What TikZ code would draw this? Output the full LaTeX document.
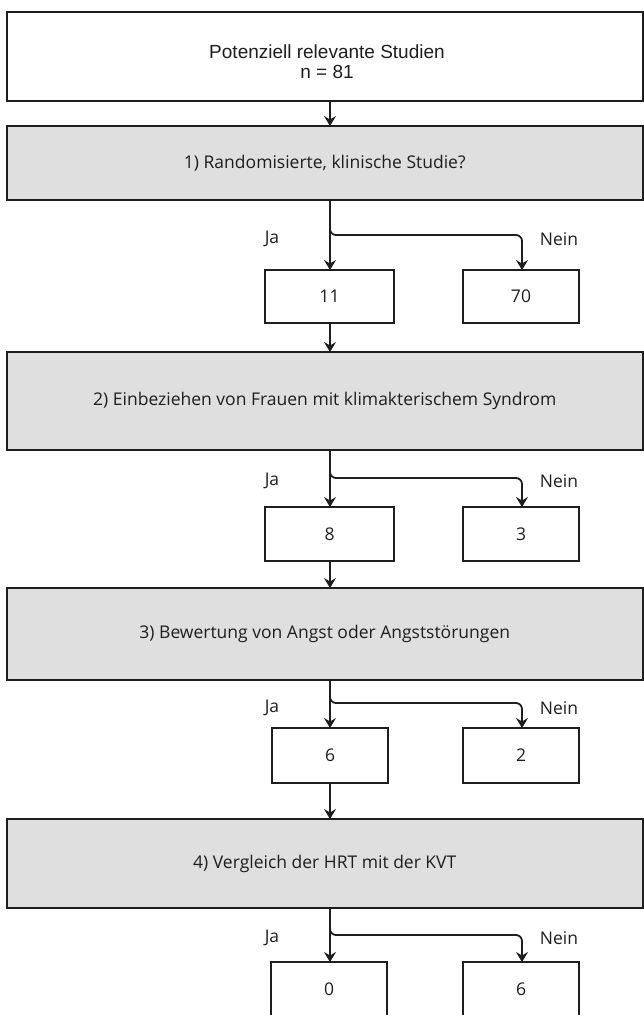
\documentclass[tikz,border=0pt]{standalone}
\usepackage{fontspec}
\setmainfont{Open Sans}
\newfontfamily\arialfont{Liberation Sans}
\usetikzlibrary{arrows.meta}
\definecolor{ink}{HTML}{1E1E1E}
\definecolor{boxgray}{HTML}{DFDFDF}
\begin{document}
\begin{tikzpicture}[x=1pt,y=-1pt,
  every node/.style={inner sep=0pt, outer sep=0pt, text=ink},
  bigbox/.style={draw=ink, line width=2pt, minimum width=635.5pt, font=\fontsize{17.5}{20}\selectfont},
  graybox/.style={bigbox, fill=boxgray},
  numbox/.style={draw=ink, line width=1.8pt, fill=white, minimum width=116pt, font=\fontsize{17.5}{20}\selectfont},
  lbl/.style={font=\fontsize{17.5}{20}\selectfont},
  arr/.style={draw=ink, line width=1.8pt, -{Stealth[length=10pt,width=12pt,inset=3.5pt]}},
  branch/.style={arr, rounded corners=6pt}]
\useasboundingbox (0,0) rectangle (644,1015);
\clip (0,0) rectangle (644,1015);
\fill[white] (0,0) rectangle (644,1015);
\coordinate (ax) at (330,0);
\coordinate (nx) at (522,0);
% top box
\node[bigbox, minimum height=89pt] (top) at (324.75,56.5) {};
\node[align=center, font=\arialfont\fontsize{19}{20.5}\selectfont] (toptext) at (327,61.5) {Potenziell relevante Studien\\n = 81};
% gray boxes
\node[graybox, minimum height=74pt] (g1) at (324.75,163) {1) Randomisierte, klinische Studie?};
\node[graybox, minimum height=98pt] (g2) at (324.75,401) {2) Einbeziehen von Frauen mit klimakterischem Syndrom};
\node[graybox, minimum height=92pt] (g3) at (324.75,634) {3) Bewertung von Angst oder Angststörungen};
\node[graybox, minimum height=89pt] (g4) at (324.75,863.5) {4) Vergleich der HRT mit der KVT};
% number boxes
\node[numbox, minimum width=129pt, minimum height=53pt] (j1) at (329.5,296.5) {11};
\node[numbox, minimum height=53pt] (n1) at (521,296.5) {70};
\node[numbox, minimum width=129pt, minimum height=54pt] (j2) at (329.5,534) {8};
\node[numbox, minimum height=54pt] (n2) at (521,534) {3};
\node[numbox, minimum height=55pt] (j3) at (330,755.5) {6};
\node[numbox, minimum height=55pt] (n3) at (521,755.5) {2};
\node[numbox, minimum height=54pt] (j4) at (329,989) {0};
\node[numbox, minimum height=54pt] (n4) at (521,989) {6};
% labels
\node[lbl] (ja1) at (272,239) {Ja};
\node[lbl] (ne1) at (559,239) {Nein};
\node[lbl] (ja2) at (272,481) {Ja};
\node[lbl] (ne2) at (559,481) {Nein};
\node[lbl] (ja3) at (272,708) {Ja};
\node[lbl] (ne3) at (559,708) {Nein};
\node[lbl] (ja4) at (272,938) {Ja};
\node[lbl] (ne4) at (559,938) {Nein};
% branch points
\coordinate (b1) at (330,235);
\coordinate (b2) at (330,478);
\coordinate (b3) at (330,703);
\coordinate (b4) at (330,935);
% vertical main arrows
\draw[arr] (ax |- top.south) -- (ax |- g1.north);
\draw[arr] (ax |- g1.south) -- (ax |- j1.north);
\draw[arr] (ax |- j1.south) -- (ax |- g2.north);
\draw[arr] (ax |- g2.south) -- (ax |- j2.north);
\draw[arr] (ax |- j2.south) -- (ax |- g3.north);
\draw[arr] (ax |- g3.south) -- (ax |- j3.north);
\draw[arr] (ax |- j3.south) -- (ax |- g4.north);
\draw[arr] (ax |- g4.south) -- (ax |- j4.north);
% Nein branches
\draw[branch] (ax |- g1.south) -- (b1) -- (nx |- b1) -- (nx |- n1.north);
\draw[branch] (ax |- g2.south) -- (b2) -- (nx |- b2) -- (nx |- n2.north);
\draw[branch] (ax |- g3.south) -- (b3) -- (nx |- b3) -- (nx |- n3.north);
\draw[branch] (ax |- g4.south) -- (b4) -- (nx |- b4) -- (nx |- n4.north);
\end{tikzpicture}
\end{document}
